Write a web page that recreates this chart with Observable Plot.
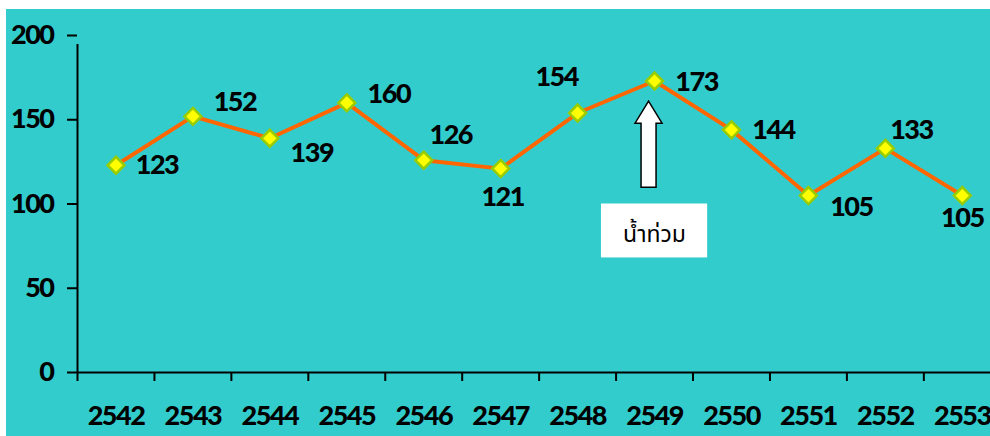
<!DOCTYPE html>
<html>
<head>
<meta charset="utf-8">
<script src="https://cdn.jsdelivr.net/npm/d3@7"></script>
<script src="https://cdn.jsdelivr.net/npm/@observablehq/plot@0.6"></script>
<style>
  html, body { margin: 0; padding: 0; background: #ffffff; overflow: hidden; }
  #chart { padding: 9px 0 0 6px; }
  #chart svg { display: block; max-width: none; }
  #chart svg text { letter-spacing: -1.5px; }
  #chart svg text.thai { letter-spacing: 0; }
</style>
</head>
<body>
<div id="chart"></div>
<script>
// ---- data ----
const years = ["2542","2543","2544","2545","2546","2547","2548","2549","2550","2551","2552","2553"];
const values = [123, 152, 139, 160, 126, 121, 154, 173, 144, 105, 133, 105];
const yTicks = [0, 50, 100, 150, 200];
const noteText = "น้ำท่วม";
const noteYear = "2549";

// ---- layout (label placement relative to each point, in px) ----
const labelOffsets = [
  [41, 0], [42, -14], [42, 15], [42, -9], [27, -25], [2, 29],
  [-21, -36], [42, 1], [42, 0], [43, 12], [26, -18], [0, 23]
];

const data = years.map((y, i) => ({year: y, i: i + 0.5, value: values[i]}));
const noteIndex = years.indexOf(noteYear) + 0.5;

const W = 984, H = 427;
const font = "Lato, 'Open Sans', sans-serif";
const FS = 27;

// block-arrow glyph (pixel units)
const blockArrow = {
  draw(ctx) {
    const h = 43, hw = 13.5, sw = 7.5, hh = 22;
    ctx.moveTo(0, -h);
    ctx.lineTo(hw, -h + hh);
    ctx.lineTo(sw, -h + hh);
    ctx.lineTo(sw, h);
    ctx.lineTo(-sw, h);
    ctx.lineTo(-sw, -h + hh);
    ctx.lineTo(-hw, -h + hh);
    ctx.closePath();
  }
};

const labelMarks = data.map((d, k) => Plot.text([d], {
  x: "i", y: "value", text: d => String(d.value),
  dx: labelOffsets[k][0], dy: labelOffsets[k][1],
  fontSize: FS, fontWeight: 900, fill: "black"
}));

const chart = Plot.plot({
  width: W,
  height: H,
  marginLeft: 71, marginRight: 0, marginTop: 26, marginBottom: 64,
  style: {background: "#33cccc", fontFamily: font, fontSize: FS + "px", fontWeight: 900, color: "black"},
  x: {domain: [0, 12], range: [71, 71 + 12 * 76.94], axis: null},
  y: {domain: [0, 200], range: [363, 26], axis: null},
  marks: [
    // axes
    Plot.ruleY([0], {x1: 0, x2: 12, stroke: "black", strokeWidth: 2}),
    Plot.ruleX([0], {y1: 0, y2: 200, insetBottom: -9, stroke: "black", strokeWidth: 2}),
    Plot.axisX({ticks: d3.range(0, 13), tickSize: 9, tickFormat: () => "", label: null, strokeWidth: 2, stroke: "black"}),
    Plot.axisX({ticks: years.map((_, i) => i + 0.5), tickSize: 0, tickPadding: 33, label: null,
      tickFormat: v => years[Math.floor(v)], fontSize: FS, fontWeight: 900, fill: "black"}),
    Plot.axisY({ticks: yTicks, tickSize: 10, tickPadding: 14, label: null, strokeWidth: 2, stroke: "black",
      fontSize: FS, fontWeight: 900, fill: "black"}),
    // annotation
    Plot.rect([0], {x1: noteIndex - 0.69, x2: noteIndex + 0.69, y1: 68, y2: 100, fill: "white"}),
    Plot.text([noteText], {x: noteIndex, y: 82, text: d => d, fontSize: 23, fontWeight: "normal",
      fontFamily: "'Noto Sans Thai', 'Noto Sans', Tahoma, sans-serif", fill: "black"}),
    Plot.dot([0], {x: noteIndex, y: 135.5, dx: -6, symbol: blockArrow, r: 10, fill: "white", stroke: "black", strokeWidth: 1.5}),
    // series
    Plot.line(data, {x: "i", y: "value", stroke: "#ff6600", strokeWidth: 4}),
    Plot.dot(data, {x: "i", y: "value", symbol: "diamond2", r: 7.6, fill: "#ffff00", stroke: "#99cc00", strokeWidth: 2.5}),
    ...labelMarks
  ]
});
d3.select(chart).selectAll("text").filter(function() { return this.textContent === noteText; }).classed("thai", true);
document.getElementById("chart").appendChild(chart);
</script>
</body>
</html>
